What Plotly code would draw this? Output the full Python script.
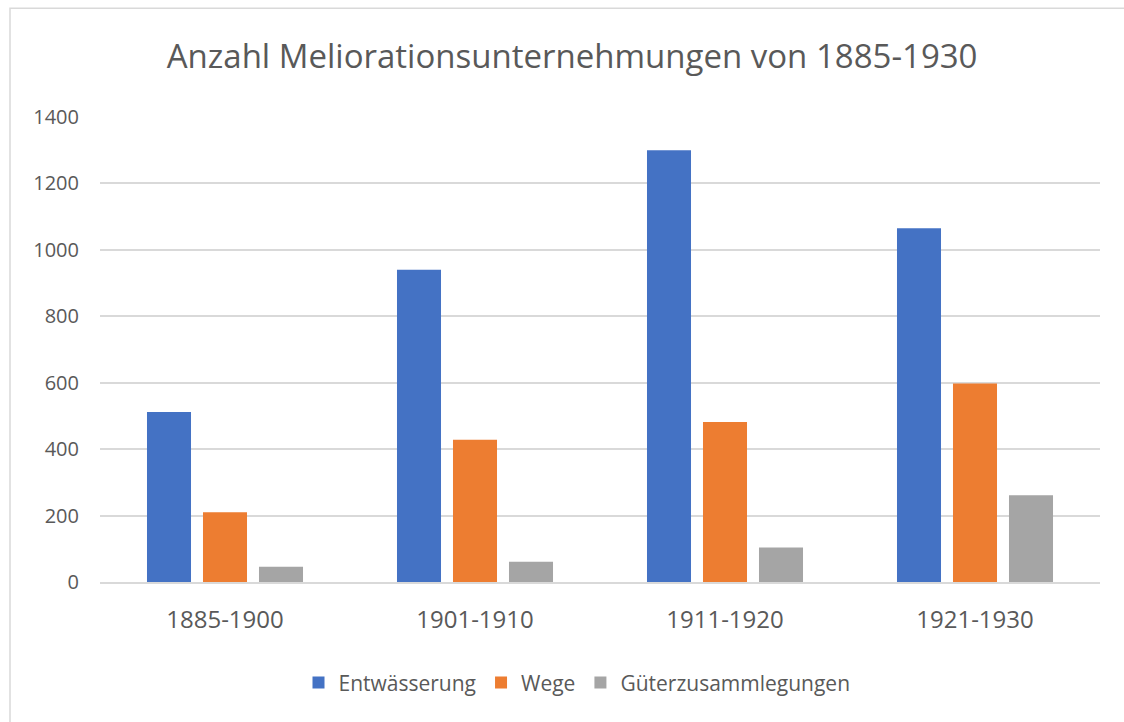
import plotly.graph_objects as go

periods = ["1885-1900", "1901-1910", "1911-1920", "1921-1930"]
entwaesserung = [512, 940, 1300, 1065]
wege = [210, 428, 482, 598]
gueterzusammlegungen = [46, 61, 104, 261]

series = [
    ("Entwässerung", entwaesserung, "#4472C4"),
    ("Wege", wege, "#ED7D31"),
    ("Güterzusammlegungen", gueterzusammlegungen, "#A5A5A5"),
]

fig = go.Figure()
for name, values, color in series:
    fig.add_trace(
        go.Bar(
            x=periods,
            y=values,
            name=name,
            marker=dict(color=color, line=dict(width=0)),
        )
    )

font_family = "Open Sans, Liberation Sans, sans-serif"
text_color = "#595959"
grid_color = "#D9D9D9"

fig.update_layout(
    width=1124,
    height=722,
    margin=dict(l=100, r=24, t=117, b=140),
    paper_bgcolor="white",
    plot_bgcolor="white",
    barmode="group",
    bargap=0.328,
    bargroupgap=0.214,
    font=dict(family=font_family, color=text_color),
    title=dict(
        text="Anzahl Meliorationsunternehmungen von 1885-1930",
        x=0.509,
        xref="container",
        xanchor="center",
        y=1 - 56 / 722,
        yref="container",
        yanchor="middle",
        font=dict(size=33, color=text_color, family=font_family),
    ),
    legend=dict(
        orientation="h",
        x=0.477,
        xanchor="center",
        y=-0.217,
        yanchor="middle",
        font=dict(size=21, color=text_color),
        itemwidth=30,
    ),
    showlegend=True,
)

fig.update_yaxes(
    range=[0, 1400],
    dtick=200,
    showgrid=True,
    gridcolor=grid_color,
    gridwidth=1.5,
    zeroline=False,
    showline=False,
    ticklabelstandoff=20,
    tickfont=dict(size=20, color=text_color),
)
fig.update_xaxes(
    showgrid=False,
    showline=True,
    linecolor=grid_color,
    linewidth=1.5,
    ticks="",
    ticklabelstandoff=15,
    tickfont=dict(size=24, color=text_color),
)

# light frame around the chart area
fig.add_shape(
    type="rect",
    xref="paper",
    yref="paper",
    x0=-0.09,
    x1=1.05,
    y0=-0.32,
    y1=1.234,
    line=dict(color=grid_color, width=1.5),
    fillcolor="rgba(0,0,0,0)",
    layer="below",
)

# drop the default page margin so the figure sits flush in the window
fig.write_html(
    "out.html",
    config={"displayModeBar": False},
    post_script="document.body.style.margin='0';document.body.style.overflow='hidden';",
)
